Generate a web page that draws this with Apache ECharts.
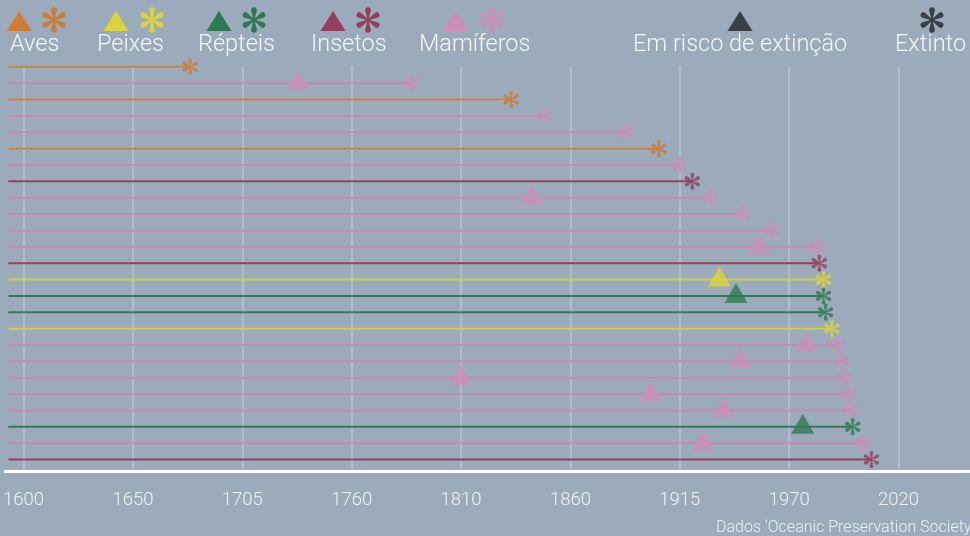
<!DOCTYPE html>
<html><head><meta charset="utf-8">
<script src="https://cdn.jsdelivr.net/npm/echarts@6/dist/echarts.min.js"></script>
<style>html,body{margin:0;padding:0;background:#9babbc;overflow:hidden}#c{width:970px;height:536px;}</style>
</head><body><div id="c"></div>
<script>
// ---------- data ----------
const groups = ['Aves', 'Peixes', 'Répteis', 'Insetos', 'Mamíferos'];
const rowGroup = ['Aves','Mamíferos','Aves','Mamíferos','Mamíferos','Aves','Mamíferos','Insetos','Mamíferos','Mamíferos','Mamíferos','Mamíferos','Insetos','Peixes','Répteis','Répteis','Peixes','Mamíferos','Mamíferos','Mamíferos','Mamíferos','Mamíferos','Répteis','Mamíferos','Insetos'];
const extinctYear = [1680,1786,1834,1850,1889,1905,1915,1921,1930,1945,1959,1981,1982,1984,1984,1985,1988,1991,1993,1994,1996,1997,1998,2003,2007];
const endangeredYear = [null,1732,null,null,null,null,null,null,1844,null,null,1953,null,1934,1942,null,null,1976,1944,1810,1901,1936,1974,1926,null];
const lineStartYear = 1592.7;
const tickYears = [1600,1652.5,1705,1757.5,1810,1862.5,1915,1967.5,2020];
const tickLabels = ['1600','1650','1705','1760','1810','1860','1915','1970','2020'];
const legendEndangered = 'Em risco de extinção';
const legendExtinct = 'Extinto';
const sourceText = 'Dados ‘Oceanic Preservation Society’';

// ---------- style ----------
const lineColor = {'Aves':'#c98543','Peixes':'#d6cd3e','Répteis':'#347a58','Insetos':'#93425f','Mamíferos':'#c68bb0'};
const markColor = {'Aves':'#cc7c34','Peixes':'#dcd33a','Répteis':'#2f7a52','Insetos':'#943f60','Mamíferos':'#cd8fb5'};
const darkColor = '#3b3f47';
const FONT = 'Roboto';

const PETAL = [[0,-0.06],[0.3,-0.11],[0.6,-0.19],[0.8,-0.23],[0.93,-0.2],[1,-0.11],[1.02,0],[1,0.11],[0.93,0.2],[0.8,0.23],[0.6,0.19],[0.3,0.11],[0,0.06]];
function petalPoints(k, cx, cy, r) {
  const a = (90 + k * 60) * Math.PI / 180;
  return PETAL.map(p => [cx + r * (p[0] * Math.cos(a) - p[1] * Math.sin(a)), cy - r * (p[0] * Math.sin(a) + p[1] * Math.cos(a))]);
}
function asteriskD() {
  let d = '';
  for (let k = 0; k < 6; k++) {
    petalPoints(k, 50, 50, 50).forEach((p, i) => { d += (i === 0 ? 'M' : 'L') + p[0].toFixed(2) + ' ' + p[1].toFixed(2) + ' '; });
    d += 'Z ';
  }
  return d;
}
const AST = asteriskD();

const lineData = extinctYear.map((y, i) => [y, i]);
const triData = [];
endangeredYear.forEach((y, i) => {
  if (y != null) triData.push({ value: [y, i], itemStyle: { color: markColor[rowGroup[i]] } });
});
const astData = extinctYear.map((y, i) => ({ value: [y, i], itemStyle: { color: markColor[rowGroup[i]] } }));

// ---------- legend (graphic) ----------
const legendPos = {
  'Aves': { text: 10, tri: 19.5, ast: 54 },
  'Peixes': { text: 97, tri: 116, ast: 152 },
  'Répteis': { text: 198, tri: 219, ast: 254 },
  'Insetos': { text: 311, tri: 333, ast: 368 },
  'Mamíferos': { text: 419, tri: 456, ast: 492 }
};
const graphics = [];
function tri(cx, color) {
  return { type: 'polygon', shape: { points: [[cx, 11], [cx - 12.5, 31], [cx + 12.5, 31]] }, style: { fill: color } };
}
function ast(cx, color) {
  const children = [];
  for (let k = 0; k < 6; k++) children.push({ type: 'polygon', shape: { points: petalPoints(k, cx, 20, 12.5) }, style: { fill: color } });
  return { type: 'group', children: children };
}
function label(x, t) {
  return { type: 'text', x: x, y: 45, style: { text: t, fill: '#f3f5f7', font: '300 23.5px ' + FONT, textVerticalAlign: 'middle' } };
}
groups.forEach(g => {
  const p = legendPos[g];
  graphics.push(tri(p.tri, markColor[g]), ast(p.ast, markColor[g]), label(p.text, g));
});
graphics.push(tri(740, darkColor), label(633, legendEndangered));
graphics.push(ast(932, darkColor), label(895, legendExtinct));
graphics.push({ type: 'text', x: 716, y: 528, style: { text: sourceText, fill: '#eef1f4', font: '300 16px ' + FONT, textVerticalAlign: 'middle' } });

const chart = echarts.init(document.getElementById('c'), null, { renderer: 'canvas' });
chart.setOption({
  backgroundColor: '#9babbc',
  animation: false,
  grid: { left: 5, right: 0, top: 66, bottom: 65, containLabel: false },
  xAxis: {
    type: 'value', min: 1591.2, max: 2054.3, position: 'bottom',
    axisLine: { show: true, onZero: false, lineStyle: { color: '#ffffff', width: 3 } },
    axisTick: { show: false, customValues: tickYears },
    axisLabel: {
      customValues: tickYears, margin: 20, color: '#f0f2f5', fontSize: 18.5, fontFamily: FONT, fontWeight: 300,
      formatter: v => { const k = tickYears.findIndex(t => Math.abs(t - v) < 0.01); return k >= 0 ? tickLabels[k] : ''; }
    },
    splitLine: { show: true, lineStyle: { color: 'rgba(255,255,255,0.3)', width: 1.5 } }
  },
  yAxis: {
    type: 'value', inverse: true, min: -0.05, max: 24.7, show: false
  },
  series: [
    {
      type: 'custom', data: lineData, encode: { x: 0, y: 1 }, z: 2,
      renderItem: (params, api) => {
        const row = api.value(1);
        const s = api.coord([lineStartYear, row]);
        const e = api.coord([api.value(0), row]);
        const g = rowGroup[params.dataIndex];
        return { type: 'line', shape: { x1: s[0], y1: s[1], x2: e[0], y2: e[1] }, style: { stroke: lineColor[g], lineWidth: 2 } };
      }
    },
    {
      type: 'scatter', data: triData, symbol: 'triangle', symbolSize: [23, 20], symbolOffset: [0, -3], z: 3
    },
    {
      type: 'scatter', data: astData, symbol: 'path://' + AST, symbolSize: 17, symbolKeepAspect: true, z: 4
    }
  ],
  graphic: graphics
});
</script></body></html>
